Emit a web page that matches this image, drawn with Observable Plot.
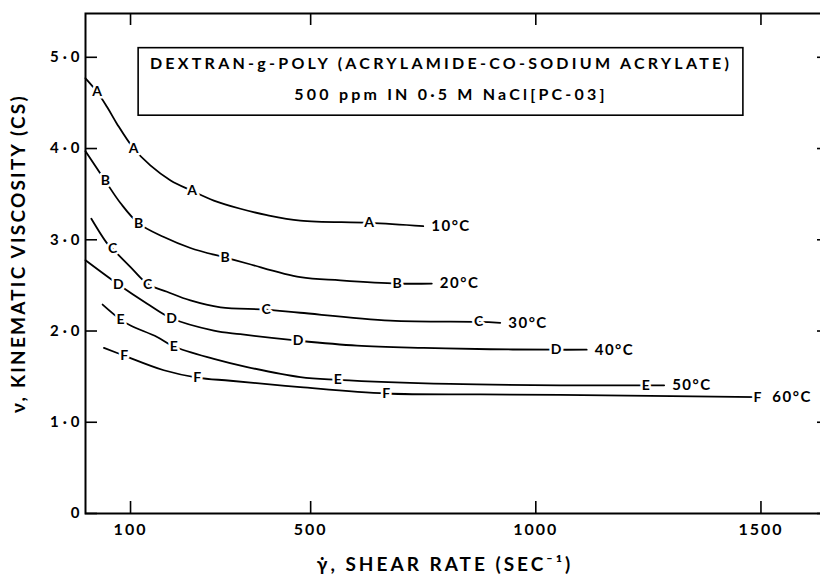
<!DOCTYPE html>
<html>
<head>
<meta charset="utf-8">
<script src="https://cdn.jsdelivr.net/npm/d3@7"></script>
<script src="https://cdn.jsdelivr.net/npm/@observablehq/plot@0.6"></script>
<style>
  html, body { margin: 0; padding: 0; background: #fff; }
  #chart { width: 820px; height: 576px; }
</style>
</head>
<body>
<div id="chart"></div>
<script>
// ---- tick values and labels ----
const xTicks = [100, 500, 1000, 1500];
const xTickLabels = ["100", "500", "1000", "1500"];
const yTicks = [0, 1, 2, 3, 4, 5];
const yTickLabels = ["0", "1·0", "2·0", "3·0", "4·0", "5·0"];

// ---- texts ----
const titleLine1 = "DEXTRAN-g-POLY (ACRYLAMIDE-CO-SODIUM ACRYLATE)";
const titleLine2 = "500 ppm IN 0·5 M NaCl[PC-03]";
const xLabel = "γ̇, SHEAR RATE (SEC⁻¹)";
const yLabel = "ν, KINEMATIC VISCOSITY (CS)";

// ---- series ----
const curveNames = ["A", "B", "C", "D", "E", "F"];
const curveTemps = ["10°C", "20°C", "30°C", "40°C", "50°C", "60°C"];

const shearA = [0, 26, 48, 70, 107, 144, 189, 237, 285, 344, 403, 477, 630, 750];
const viscA  = [4.77, 4.62, 4.455, 4.27, 4.00, 3.815, 3.65, 3.535, 3.43, 3.34, 3.27, 3.21, 3.185, 3.15];
const lettersA = [1, 4, 7, 12];

const shearB = [0, 44, 78, 118, 174, 233, 310, 359, 477, 566, 692, 769];
const viscB  = [3.97, 3.645, 3.40, 3.18, 3.03, 2.91, 2.805, 2.74, 2.59, 2.555, 2.52, 2.52];
const lettersB = [1, 3, 6, 10];

const shearC = [13, 48, 60, 100, 138, 181, 233, 300, 401, 477, 677, 873, 921];
const viscC  = [3.23, 2.96, 2.90, 2.70, 2.515, 2.43, 2.335, 2.26, 2.235, 2.20, 2.115, 2.10, 2.09];
const lettersC = [2, 4, 8, 11];

const shearD = [0, 73, 137, 191, 285, 344, 472, 603, 751, 899, 1045, 1113];
const viscD  = [2.775, 2.51, 2.30, 2.14, 2.005, 1.965, 1.895, 1.84, 1.815, 1.80, 1.795, 1.795];
const lettersD = [1, 3, 6, 10];

const shearE = [38, 78, 100, 159, 196, 285, 359, 477, 560, 810, 1054, 1244, 1285];
const viscE  = [2.29, 2.125, 2.06, 1.935, 1.83, 1.695, 1.605, 1.495, 1.465, 1.42, 1.405, 1.405, 1.405];
const lettersE = [1, 4, 8, 11];

const shearF = [41, 86, 174, 248, 322, 477, 668, 877, 1054, 1492];
const viscF  = [1.815, 1.73, 1.57, 1.49, 1.455, 1.385, 1.315, 1.305, 1.30, 1.275];
const lettersF = [1, 3, 6, 9];

// annotation box (data units)
const titleBox = {x1: 118, x2: 1461, y1: 4.36, y2: 5.10};

// ---- build tables ----
const shears = [shearA, shearB, shearC, shearD, shearE, shearF];
const viscs = [viscA, viscB, viscC, viscD, viscE, viscF];
const letters = [lettersA, lettersB, lettersC, lettersD, lettersE, lettersF];

const points = [];
const markers = [];
const ends = [];
curveNames.forEach((name, s) => {
  shears[s].forEach((x, i) => points.push({series: name, x, y: viscs[s][i]}));
  letters[s].forEach(i => markers.push({series: name, x: shears[s][i], y: viscs[s][i]}));
  const last = shears[s].length - 1;
  ends.push({series: name, temp: curveTemps[s], x: shears[s][last], y: viscs[s][last],
             lettered: letters[s].includes(last)});
});

const spaced = (ls) => (index, scales, values, dims, context, next) => {
  const g = next(index, scales, values, dims, context);
  if (g) g.setAttribute("letter-spacing", ls);
  return g;
};

const font = "Lato, 'DejaVu Sans', sans-serif";

const chart = Plot.plot({
  width: 820,
  height: 576,
  marginLeft: 85,
  marginRight: -8,
  marginTop: 13,
  marginBottom: 63,
  style: {fontFamily: font, background: "white", color: "black", overflow: "hidden"},
  x: {domain: [0, 1650], label: null},
  y: {domain: [0, 5.48], label: null},
  marks: [
    // curves
    Plot.line(points, {x: "x", y: "y", z: "series", curve: "catmull-rom",
      stroke: "black", strokeWidth: 1.8}),
    // curve letters
    Plot.text(markers, {x: "x", y: "y", text: "series", fontSize: 14, fontWeight: "bold",
      fill: "black", stroke: "white", strokeWidth: 5}),
    // temperature labels
    Plot.text(ends.filter(d => !d.lettered), {x: "x", y: "y", text: "temp", textAnchor: "start",
      dx: 8, fontSize: 15, fontWeight: "bold", fill: "black", render: spaced("1.5px")}),
    Plot.text(ends.filter(d => d.lettered), {x: "x", y: "y", text: "temp", textAnchor: "start",
      dx: 15, fontSize: 15, fontWeight: "bold", fill: "black", render: spaced("1.5px")}),
    // title box
    Plot.rect([titleBox], {x1: "x1", x2: "x2", y1: "y1", y2: "y2",
      fill: "white", stroke: "black", strokeWidth: 1.6}),
    Plot.text([titleLine1], {x: (titleBox.x1 + titleBox.x2) / 2, frameAnchor: "top", dy: 50,
      lineAnchor: "middle", textAnchor: "middle",
      fontSize: 16, fontWeight: "bold", fill: "black", render: spaced("3.25px")}),
    Plot.text([titleLine2], {x: (titleBox.x1 + titleBox.x2) / 2, frameAnchor: "top", dy: 81,
      dx: 10, lineAnchor: "middle", textAnchor: "middle",
      fontSize: 16, fontWeight: "bold", fill: "black", render: spaced("3.2px")}),
    // axes
    Plot.axisX({anchor: "bottom", ticks: xTicks, tickSize: -12, tickPadding: 22,
      tickFormat: d => xTickLabels[xTicks.indexOf(d)], label: null,
      fontSize: 16, fontWeight: "bold", strokeWidth: 1.6, render: spaced("2px")}),
    Plot.axisX({anchor: "top", ticks: xTicks, tickSize: -11, fill: "none",
      tickFormat: () => "", label: null, strokeWidth: 1.6}),
    Plot.axisY({anchor: "left", ticks: yTicks, tickSize: -12, tickPadding: 14,
      tickFormat: d => yTickLabels[yTicks.indexOf(d)], label: null,
      fontSize: 15, fontWeight: "bold", strokeWidth: 1.6, render: spaced("4px")}),
    Plot.axisY({anchor: "right", ticks: yTicks, tickSize: -12, fill: "none",
      tickFormat: () => "", label: null, strokeWidth: 1.6}),
    Plot.frame({stroke: "black", strokeWidth: 2}),
    // axis titles
    Plot.text([yLabel], {frameAnchor: "left", rotate: -90, dx: -67, dy: -10,
      textAnchor: "middle", lineAnchor: "middle",
      fontSize: 19, fontWeight: "bold", fill: "black", render: spaced("2.2px")}),
    Plot.text([xLabel], {frameAnchor: "bottom", dx: -12, dy: 51,
      textAnchor: "middle", lineAnchor: "middle",
      fontSize: 19, fontWeight: "bold", fill: "black", render: spaced("3px")})
  ]
});

document.getElementById("chart").appendChild(chart);
</script>
</body>
</html>
